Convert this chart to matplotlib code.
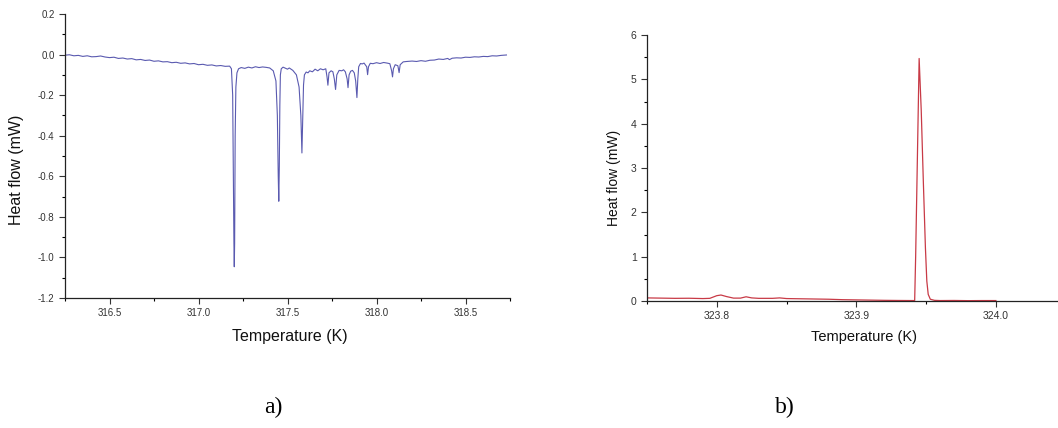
import matplotlib.pyplot as plt
from matplotlib.ticker import MultipleLocator

plt.rcParams['font.family'] = ['Liberation Sans', 'DejaVu Sans']
plt.rcParams['axes.unicode_minus'] = False

# panel a) heat flow
temp_a = [316.250, 316.275, 316.300, 316.325, 316.350, 316.375, 316.400, 316.425,
          316.450, 316.475, 316.500, 316.525, 316.550, 316.575, 316.600, 316.625,
          316.650, 316.675, 316.700, 316.725, 316.750, 316.775, 316.800, 316.825,
          316.850, 316.875, 316.900, 316.925, 316.950, 316.975, 317.000, 317.025,
          317.050, 317.075, 317.100, 317.125, 317.150, 317.175,
          317.185, 317.192, 317.196, 317.199, 317.201, 317.203, 317.206, 317.210,
          317.216, 317.225,
          317.240, 317.260, 317.280, 317.300, 317.320, 317.340, 317.360, 317.380,
          317.400, 317.420, 317.435, 317.443, 317.448, 317.451, 317.454, 317.457,
          317.460, 317.465, 317.475, 317.490, 317.500, 317.510, 317.530, 317.550,
          317.565, 317.575, 317.581, 317.586, 317.590, 317.595, 317.605, 317.615,
          317.625, 317.640, 317.655, 317.670, 317.685, 317.700, 317.715, 317.722,
          317.727, 317.733, 317.745, 317.755, 317.763, 317.770, 317.777, 317.790,
          317.805, 317.815, 317.825, 317.835, 317.840, 317.846, 317.855, 317.865,
          317.875, 317.883, 317.890, 317.895, 317.900, 317.910, 317.920, 317.930,
          317.945, 317.950, 317.955, 317.965, 317.980, 318.000, 318.020, 318.040,
          318.060, 318.075, 318.085, 318.090, 318.095, 318.105, 318.120, 318.127,
          318.133, 318.150, 318.170, 318.200, 318.225, 318.250, 318.275, 318.300,
          318.325, 318.350, 318.375, 318.400, 318.410, 318.425, 318.450, 318.475,
          318.500, 318.525, 318.550, 318.575, 318.600, 318.625, 318.650, 318.675,
          318.700, 318.730]
flow_a = [-0.003, -0.001, -0.006, -0.004, -0.009, -0.006, -0.011, -0.010,
          -0.007, -0.012, -0.015, -0.013, -0.019, -0.017, -0.022, -0.020,
          -0.026, -0.024, -0.029, -0.027, -0.033, -0.031, -0.036, -0.035,
          -0.040, -0.038, -0.043, -0.041, -0.046, -0.044, -0.050, -0.048,
          -0.053, -0.051, -0.056, -0.054, -0.058, -0.057,
          -0.070, -0.200, -0.620, -0.930, -1.046, -0.930, -0.400, -0.160,
          -0.090, -0.070,
          -0.064, -0.068, -0.062, -0.066, -0.060, -0.064, -0.061, -0.063,
          -0.066, -0.080, -0.130, -0.300, -0.600, -0.723, -0.550, -0.250,
          -0.100, -0.070, -0.062, -0.068, -0.072, -0.066, -0.078, -0.100,
          -0.160, -0.300, -0.485, -0.300, -0.150, -0.100, -0.086, -0.090,
          -0.080, -0.085, -0.072, -0.080, -0.070, -0.075, -0.070, -0.110,
          -0.151, -0.090, -0.080, -0.085, -0.120, -0.172, -0.100, -0.078,
          -0.080, -0.075, -0.085, -0.120, -0.163, -0.100, -0.082, -0.078,
          -0.090, -0.130, -0.212, -0.120, -0.060, -0.044, -0.046, -0.042,
          -0.060, -0.099, -0.060, -0.043, -0.045, -0.040, -0.044, -0.039,
          -0.042, -0.045, -0.080, -0.110, -0.070, -0.050, -0.055, -0.089,
          -0.050, -0.036, -0.034, -0.032, -0.034, -0.030, -0.033, -0.028,
          -0.027, -0.022, -0.024, -0.019, -0.025, -0.018, -0.016, -0.017,
          -0.013, -0.014, -0.011, -0.012, -0.009, -0.010, -0.006, -0.007,
          -0.004, -0.002]

# panel b) heat flow
temp_b = [323.750, 323.760, 323.770, 323.780, 323.790, 323.795, 323.800, 323.803,
          323.807, 323.812, 323.817, 323.821, 323.825, 323.830, 323.840, 323.845,
          323.850, 323.860, 323.870, 323.880, 323.890, 323.900, 323.910, 323.920,
          323.930, 323.940, 323.9418, 323.9425, 323.9450, 323.9465, 323.9480,
          323.9495, 323.9505, 323.9515, 323.9530, 323.9560, 323.960, 323.970,
          323.980, 323.990, 324.000]
flow_b = [0.070, 0.065, 0.060, 0.062, 0.055, 0.060, 0.120, 0.135,
          0.100, 0.065, 0.065, 0.095, 0.070, 0.060, 0.060, 0.070,
          0.055, 0.050, 0.045, 0.040, 0.030, 0.025, 0.020, 0.015,
          0.012, 0.010, 0.010, 1.000, 5.470, 4.300, 2.700,
          1.200, 0.450, 0.150, 0.040, 0.015, 0.010, 0.012,
          0.008, 0.010, 0.010]

fig = plt.figure(figsize=(10.58, 4.28), dpi=100)

ax1 = fig.add_axes([65 / 1058, 1 - 298 / 428, 445 / 1058, 284 / 428])
ax1.plot(temp_a, flow_a, color='#5a5ab0', lw=0.8)
ax1.set_xlim(316.25, 318.75)
ax1.set_ylim(-1.2, 0.2)
ax1.xaxis.set_major_locator(MultipleLocator(0.5))
ax1.xaxis.set_minor_locator(MultipleLocator(0.25))
ax1.yaxis.set_major_locator(MultipleLocator(0.2))
ax1.yaxis.set_minor_locator(MultipleLocator(0.1))
ax1.set_xticks([316.5, 317.0, 317.5, 318.0, 318.5])
ax1.set_ylabel('Heat flow (mW)', fontsize=11.5)
ax1.yaxis.set_label_coords(-0.092, 0.45)
ax1.tick_params(labelsize=7, colors='#333333')

ax2 = fig.add_axes([647 / 1058, 1 - 301 / 428, 411 / 1058, 266 / 428])
ax2.plot(temp_b, flow_b, color='#c83a46', lw=0.9)
ax2.set_xlim(323.75, 324.0445)
ax2.set_ylim(0, 6)
ax2.xaxis.set_major_locator(MultipleLocator(0.1))
ax2.xaxis.set_minor_locator(MultipleLocator(0.05))
ax2.yaxis.set_major_locator(MultipleLocator(1))
ax2.yaxis.set_minor_locator(MultipleLocator(0.5))
ax2.set_ylabel('Heat flow (mW)', fontsize=10)
ax2.yaxis.set_label_coords(-0.063, 0.464)
ax2.tick_params(labelsize=7.5, colors='#333333')

for ax in (ax1, ax2):
    for s in ('top', 'right'):
        ax.spines[s].set_visible(False)
    for s in ('left', 'bottom'):
        ax.spines[s].set_color('#222222')
        ax.spines[s].set_linewidth(0.9)
    ax.tick_params(which='major', direction='out', length=4, width=0.8)
    ax.tick_params(which='minor', direction='out', length=2.5, width=0.8)
    ax.yaxis.label.set_color('#111111')

fig.text(290 / 1058, 1 - 337 / 428, 'Temperature (K)', ha='center', va='center',
         fontsize=11.5, color='#111111')
fig.text(864 / 1058, 1 - 337 / 428, 'Temperature (K)', ha='center', va='center',
         fontsize=10.5, color='#111111')
fig.text(273 / 1058, 1 - 407 / 428, 'a)', ha='center', va='center',
         fontsize=17, family='Liberation Serif')
fig.text(785 / 1058, 1 - 407 / 428, 'b)', ha='center', va='center',
         fontsize=17, family='Liberation Serif')

fig.savefig('out.png', dpi=100)
